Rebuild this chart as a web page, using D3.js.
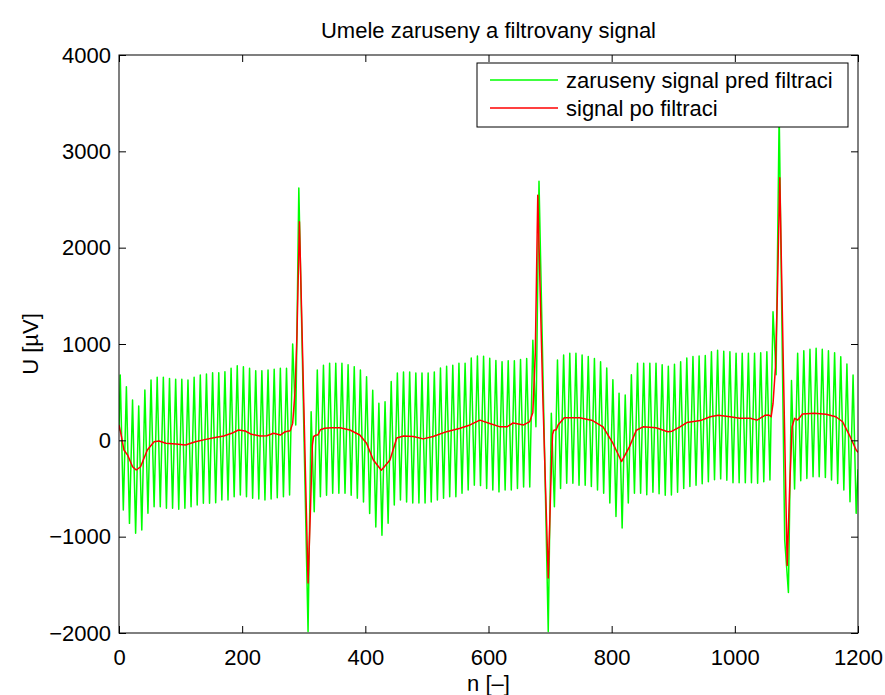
<!DOCTYPE html>
<html>
<head>
<meta charset="utf-8">
<script src="https://cdn.jsdelivr.net/npm/d3@7"></script>
<style>
  body { margin: 0; background: #fff; }
  svg text { font-family: "Liberation Sans", Arial, Helvetica, sans-serif; fill: #000; }
</style>
</head>
<body>
<svg id="chart" width="885" height="695"></svg>
<script>
// noisy signal (green) - peaks / troughs, [n, U]
const noisySignal = [
  [0, 100],
  [2, 678], [7, -723], [12, 557], [17, -862], [22, 418], [27, -965], [32, 356], [37, -931],
  [42, 522], [47, -758], [52, 626], [57, -689], [62, 654], [67, -689], [72, 654], [77, -706],
  [82, 643], [87, -706], [92, 633], [97, -716], [102, 633], [107, -706], [112, 626], [117, -689],
  [122, 654], [127, -672], [132, 678], [137, -654], [142, 688], [147, -654], [152, 702], [157, -648],
  [162, 702], [167, -620], [172, 712], [177, -620], [182, 747], [187, -585], [192, 775], [197, -568],
  [202, 764], [207, -585], [212, 747], [217, -602], [222, 723], [227, -610], [232, 723], [237, -620],
  [242, 730], [247, -610], [252, 737], [257, -595], [262, 747], [267, -585], [272, 747], [277, -568],
  [282, 1000], [287, 160], [292, 2620], [307, -1985],
  [312, 297], [317, -741], [322, 730], [327, -585], [332, 780], [337, -570], [342, 800], [347, -550],
  [352, 800], [357, -550], [362, 800], [367, -550], [372, 785], [377, -570], [382, 765], [387, -600],
  [392, 730], [397, -640], [402, 660], [407, -760], [412, 520], [417, -900], [422, 385], [427, -985],
  [432, 400], [437, -860], [442, 610], [447, -670], [452, 700], [457, -620], [462, 710], [467, -640],
  [472, 710], [477, -650], [482, 700], [487, -650], [492, 700], [497, -650], [502, 700], [507, -640],
  [512, 710], [517, -620], [522, 750], [527, -600], [532, 770], [537, -585], [542, 780], [547, -585],
  [552, 800], [557, -550], [562, 800], [567, -515], [572, 855], [577, -465], [582, 875], [587, -470],
  [592, 872], [597, -500], [602, 852], [607, -515], [612, 828], [617, -535], [622, 816], [627, -515],
  [632, 827], [637, -515], [642, 827], [647, -500], [652, 840], [657, -485], [662, 850], [667, -485],
  [672, 1040], [677, 140], [682, 2690], [697, -1985],
  [702, 280], [707, -690], [712, 835], [717, -500], [722, 885], [727, -445], [732, 903], [737, -445],
  [742, 903], [747, -465], [752, 885], [757, -465], [762, 870], [767, -480], [772, 850], [777, -515],
  [782, 815], [787, -550], [792, 750], [797, -650], [802, 630], [807, -790], [812, 490], [817, -910],
  [822, 470], [827, -650], [832, 680], [837, -550], [842, 800], [847, -550], [852, 800], [857, -565],
  [862, 800], [867, -540], [872, 800], [877, -555], [882, 785], [887, -570], [892, 770], [897, -568],
  [902, 790], [907, -540], [912, 815], [917, -500], [922, 855], [927, -480], [932, 870], [937, -465],
  [942, 875], [947, -450], [952, 880], [957, -430], [962, 920], [967, -410], [972, 935], [977, -400],
  [982, 925], [987, -415], [992, 920], [997, -440], [1002, 905], [1007, -440], [1012, 905], [1017, -440],
  [1022, 905], [1027, -440], [1032, 905], [1037, -445], [1042, 910], [1047, -430], [1052, 920], [1057, -412],
  [1062, 1335], [1067, 680], [1072, 3400], [1081, -1035], [1087, -1580],
  [1092, 622], [1097, -505], [1102, 903], [1107, -420], [1112, 930], [1117, -395], [1122, 945], [1127, -378],
  [1132, 955], [1137, -378], [1142, 945], [1147, -385], [1152, 930], [1157, -412], [1162, 910], [1167, -447],
  [1172, 868], [1177, -516], [1182, 792], [1187, -637], [1192, 678], [1197, -758], [1200, -300]
];

// filtered signal (red), [n, U]
const filteredSignal = [
  [0, 159], [4, 40], [8, -100], [14, -153], [22, -274], [28, -308], [35, -274], [46, -100],
  [57, -14], [65, -7], [76, -31], [92, -38], [108, -49], [124, -14], [141, 10], [154, 27],
  [170, 45], [183, 73], [194, 107], [205, 97], [215, 62], [229, 45], [240, 48], [251, 73],
  [262, 55], [270, 90], [278, 100], [282, 176], [286, 522], [289, 1100], [293, 2270], [300, 400],
  [307, -1480], [311, -700], [314, -50], [316, 40], [320, 55], [323, 55], [327, 110], [334, 125],
  [345, 130], [359, 130], [375, 107], [391, 55], [402, -30], [413, -205], [426, -310], [440, -205],
  [451, 25], [462, 45], [478, 40], [494, 15], [510, 40], [532, 90], [554, 125], [570, 160],
  [586, 210], [602, 175], [619, 140], [630, 140], [640, 180], [657, 160], [667, 195], [672, 290],
  [676, 900], [680, 2545], [688, 500], [697, -1430], [701, -500], [704, 60], [706, 105], [710, 110],
  [713, 160], [723, 235], [748, 235], [769, 205], [786, 140], [802, -30], [816, -220], [829, -65],
  [840, 105], [851, 140], [872, 130], [891, 90], [898, 95], [911, 140], [922, 185], [944, 205],
  [960, 245], [973, 260], [992, 245], [1008, 230], [1025, 230], [1036, 210], [1049, 260], [1055, 263],
  [1059, 245], [1062, 380], [1066, 760], [1069, 1500], [1073, 2725], [1079, 700], [1085, -1300], [1089, -500],
  [1093, 141], [1097, 228], [1102, 211], [1110, 273], [1129, 280], [1148, 270], [1164, 245], [1175, 193],
  [1186, 55], [1197, -100], [1200, -125]
];

const xTicks = [0, 200, 400, 600, 800, 1000, 1200];
const yTicks = [-2000, -1000, 0, 1000, 2000, 3000, 4000];
const legendLabels = ["zaruseny signal pred filtraci", "signal po filtraci"];
const titleText = "Umele zaruseny a filtrovany signal";
const xLabel = "n [\u2013]";
const yLabel = "U [\u00b5V]";

const margin = { top: 55, right: 27, bottom: 62, left: 119 };
const width = 885 - margin.left - margin.right;
const height = 695 - margin.top - margin.bottom;
const fontSize = 22;
const tickLen = 7;

const svg = d3.select("#chart");
const plot = svg.append("g").attr("transform", `translate(${margin.left},${margin.top})`);

const x = d3.scaleLinear().domain([0, 1200]).range([0, width]);
const y = d3.scaleLinear().domain([-2000, 4000]).range([height, 0]);

const fmt = d => d < 0 ? "\u2212" + Math.abs(d) : String(d);

plot.append("defs").append("clipPath").attr("id", "clip")
  .append("rect").attr("width", width).attr("height", height);

// lines
const line = d3.line().x(d => x(d[0])).y(d => y(d[1]));
const lines = plot.append("g").attr("clip-path", "url(#clip)");
lines.append("path").datum(noisySignal)
  .attr("fill", "none").attr("stroke", "#00ff00").attr("stroke-width", 1.5)
  .attr("stroke-linejoin", "round").attr("d", line);
lines.append("path").datum(filteredSignal)
  .attr("fill", "none").attr("stroke", "#ff0000").attr("stroke-width", 1.5)
  .attr("stroke-linejoin", "round").attr("d", line);

// axes, ticks inside on all four sides (matlab style)
const axisStyle = g => {
  g.selectAll("path.domain").remove();
  g.selectAll("line").attr("stroke", "#000");
  g.selectAll("text").style("font-size", fontSize + "px").attr("fill", "#000");
};
plot.append("g").attr("transform", `translate(0,${height})`)
  .call(d3.axisBottom(x).tickValues(xTicks).tickFormat(fmt).tickSizeInner(-tickLen).tickPadding(16))
  .call(axisStyle);
plot.append("g")
  .call(d3.axisTop(x).tickValues(xTicks).tickFormat("").tickSizeInner(-tickLen))
  .call(axisStyle);
plot.append("g")
  .call(d3.axisLeft(y).tickValues(yTicks).tickFormat(fmt).tickSizeInner(-tickLen).tickPadding(8))
  .call(axisStyle);
plot.append("g").attr("transform", `translate(${width},0)`)
  .call(d3.axisRight(y).tickValues(yTicks).tickFormat("").tickSizeInner(-tickLen))
  .call(axisStyle);

plot.append("rect").attr("width", width).attr("height", height)
  .attr("fill", "none").attr("stroke", "#000").attr("stroke-width", 1);

// labels
svg.append("text").attr("x", margin.left + width / 2).attr("y", 38)
  .attr("text-anchor", "middle").style("font-size", fontSize + "px").text(titleText);
svg.append("text").attr("x", margin.left + width / 2).attr("y", 691)
  .attr("text-anchor", "middle").style("font-size", fontSize + "px").text(xLabel);
svg.append("text").attr("transform", `translate(38,${margin.top + height / 2}) rotate(-90)`)
  .attr("text-anchor", "middle").style("font-size", fontSize + "px").text(yLabel);

// legend
const legend = svg.append("g").attr("transform", "translate(477,63)");
legend.append("rect").attr("width", 371).attr("height", 64)
  .attr("fill", "#fff").attr("stroke", "#000").attr("stroke-width", 1);
const legendColors = ["#00ff00", "#ff0000"];
legendLabels.forEach((lab, i) => {
  const ly = 17 + i * 28;
  legend.append("line").attr("x1", 13).attr("x2", 81).attr("y1", ly).attr("y2", ly)
    .attr("stroke", legendColors[i]).attr("stroke-width", 1.5);
  legend.append("text").attr("x", 89).attr("y", ly).attr("dy", "0.35em")
    .style("font-size", fontSize + "px").text(lab);
});
</script>
</body>
</html>
